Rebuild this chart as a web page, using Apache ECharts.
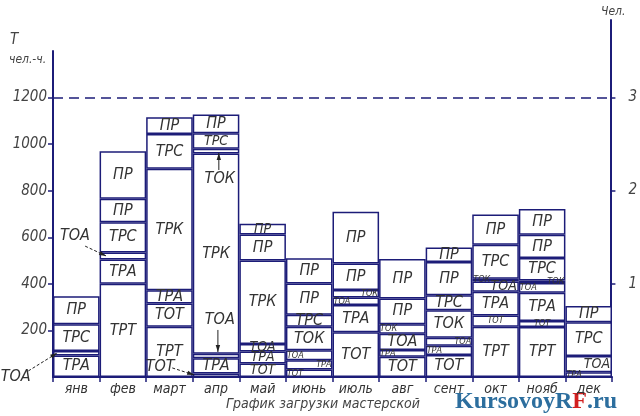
<!DOCTYPE html>
<html><head><meta charset="utf-8">
<script src="https://cdn.jsdelivr.net/npm/echarts@6/dist/echarts.min.js"></script>
<style>html,body{margin:0;padding:0;background:#fff}#c{width:640px;height:416px}</style>
</head><body><div id="c"></div><script>
// ---- data ----
const months = ['янв','фев','март','апр','май','июнь','июль','авг','сент','окт','нояб','дек'];
const hourTicks = [200,400,600,800,1000,1200];
const personTicks = [1,2,3];
const limitHours = 1200;

// segment values (чел.-ч.), bottom to top
const janValues  = [92,20,115,120];
const febValues  = [400,105,30,130,100,205];
const marValues  = [216,100,57,521,150,72];
const aprValues  = [15,65,20,860,20,67,80];
const mayValues  = [58,52,32,358,112,46];
const junValues  = [32,40,43,101,51,135,108];
const julValues  = [192,117,32,33,113,223];
const augValues  = [87,29,70,41,110,170];
const sepValues  = [94,40,35,118,64,143,62];
const octValues  = [216,48,102,44,12,146,130];
const novValues  = [215,25,122,42,10,97,100,111];
const decValues  = [20,70,145,70];

const janLabels = ['ТРА','ТОА','ТРС','ПР'];
const febLabels = ['ТРТ','ТРА','ТОА','ТРС','ПР','ПР'];
const marLabels = ['ТРТ','ТОТ','ТРА','ТРК','ТРС','ПР'];
const aprLabels = ['ТОТ','ТРА','ТОА','ТРК','ТОК','ТРС','ПР'];
const mayLabels = ['ТОТ','ТРА','ТОА','ТРК','ПР','ПР'];
const junLabels = ['ТОТ','ТРА','ТОА','ТОК','ТРС','ПР','ПР'];
const julLabels = ['ТОТ','ТРА','ТОА','ТОК','ПР','ПР'];
const augLabels = ['ТОТ','ТРА','ТОА','ТОК','ПР','ПР'];
const sepLabels = ['ТОТ','ТРА','ТОА','ТОК','ТРС','ПР','ПР'];
const octLabels = ['ТРТ','ТОТ','ТРА','ТОА','ТОК','ТРС','ПР'];
const novLabels = ['ТРТ','ТОТ','ТРА','ТОА','ТОК','ТРС','ПР','ПР'];
const decLabels = ['ТРА','ТОА','ТРС','ПР'];

const monthValues = [janValues,febValues,marValues,aprValues,mayValues,junValues,julValues,augValues,sepValues,octValues,novValues,decValues];
const monthLabels = [janLabels,febLabels,marLabels,aprLabels,mayLabels,junLabels,julLabels,augLabels,sepLabels,octLabels,novLabels,decLabels];

// ---- label placement (style) ----
const placement = [
  ['c','n','c','c'],
  ['c','c','n','c','c','c'],
  ['c','c','c','c','c','c'],
  ['n','c','n','c','n','m','c'],
  ['m','m','m','c','c','m'],
  ['sl','sr','sl','c','c','c','c'],
  ['c','c','sl','sr','c','c'],
  ['c','sl','c','sl','c','c'],
  ['c','sl','sr','c','c','c','c'],
  ['c','sc','c','r','sl','c','c'],
  ['c','sc','c','sl','sr','c','c','c'],
  ['sl','r','c','c']
];
// callouts: [text, textX, textY, fromX, fromY, toX, toY, dashed]  (x in month units, y in чел.-ч.)
const callouts = [
  ['ТОА', -0.80, 2,   -0.53, 26,  0.09, 103, 1],
  ['ТОА',  0.47, 605,  0.69, 562, 1.14, 520, 1],
  ['ТОТ',  2.30, 43,   2.56, 39,  3.03, 9,   1],
  ['ТОК',  3.58, 850,  3.56, 889, 3.56, 962, 0],
  ['ТОА',  3.58, 245,  3.54, 202, 3.54, 107, 0]
];

const NAVY = '#1c1c78';
const TXT = '#333';
const FONT = "'Liberation Sans Narrow','DejaVu Sans Condensed',sans-serif";

function labelFor(code){
  const base = {fontStyle:'italic', fontFamily:FONT, color:TXT};
  switch(code){
    case 'c':  return Object.assign(base,{show:true, position:'inside', fontSize:16});
    case 'm':  return Object.assign(base,{show:true, position:'inside', fontSize:14});
    case 'r':  return Object.assign(base,{show:true, position:'insideRight', distance:2, fontSize:14});
    case 'sl': return Object.assign(base,{show:true, position:'insideLeft', distance:1, fontSize:9});
    case 'sr': return Object.assign(base,{show:true, position:'insideRight', distance:1, fontSize:9});
    case 'sc': return Object.assign(base,{show:true, position:'inside', fontSize:9});
    default:   return {show:false};
  }
}

const layers = Math.max(...monthValues.map(v=>v.length));
const series = [];
for(let k=0;k<layers;k++){
  series.push({
    type:'bar', stack:'total', xAxisIndex:0, yAxisIndex:0,
    barCategoryGap:'0%', barGap:'0%',
    itemStyle:{color:'#fff', borderColor:NAVY, borderWidth:1.5},
    emphasis:{disabled:true},
    data: months.map((m,i)=>{
      const v = monthValues[i][k];
      if(v===undefined) return '-';
      return {value:v, label:Object.assign(labelFor(placement[i][k]),{formatter:monthLabels[i][k]})};
    }),
    markLine: k===0 ? {
      silent:true, symbol:'none', label:{show:false},
      lineStyle:{color:NAVY, type:[10,6], width:1.5},
      data:[{yAxis:limitHours}]
    } : undefined
  });
}
series.push({
  type:'custom', xAxisIndex:1, yAxisIndex:0, clip:false, z:10,
  data: callouts.map(c=>c.slice(1)),
  renderItem:(params, api)=>{
    const c = callouts[params.dataIndex];
    const t = api.coord([c[1],c[2]]);
    const a = api.coord([c[3],c[4]]);
    const b = api.coord([c[5],c[6]]);
    const ang = Math.atan2(b[1]-a[1], b[0]-a[0]);
    const L=7, W=2.2;
    const p1=[b[0]-L*Math.cos(ang)+W*Math.sin(ang), b[1]-L*Math.sin(ang)-W*Math.cos(ang)];
    const p2=[b[0]-L*Math.cos(ang)-W*Math.sin(ang), b[1]-L*Math.sin(ang)+W*Math.cos(ang)];
    return {type:'group', children:[
      {type:'text', style:{text:c[0], x:t[0], y:t[1], align:'center', verticalAlign:'middle',
        font:'italic 16px '+FONT, fill:TXT}},
      {type:'line', shape:{x1:a[0],y1:a[1],x2:b[0],y2:b[1]},
        style:{stroke:'#222', lineWidth:1, lineDash: c[7]? [3,2] : null}},
      {type:'polygon', shape:{points:[b,p1,p2]}, style:{fill:'#222'}}
    ]};
  }
});

const plain = v => String(v);
const chart = echarts.init(document.getElementById('c'), null, {renderer:'canvas'});
chart.setOption({
  animation:false,
  backgroundColor:'#fff',
  grid:[
    {left:53, right:28, top:51, bottom:39},
    {left:53, right:28, top:20, bottom:39}
  ],
  xAxis:[
    {type:'category', gridIndex:0, data:months, boundaryGap:true,
     axisLine:{onZero:false, lineStyle:{color:NAVY, width:2}},
     axisTick:{show:true, length:5, lineStyle:{color:NAVY, width:1.5}},
     axisLabel:{margin:5, fontStyle:'italic', fontFamily:FONT, fontSize:14, color:TXT, interval:0}},
    {type:'value', gridIndex:0, min:0, max:12, show:false, axisLine:{onZero:false}},
    {type:'value', gridIndex:1, min:0, max:12, show:false, axisLine:{onZero:false}}
  ],
  yAxis:[
    {type:'value', gridIndex:0, min:0, max:1400, interval:200,
     axisLine:{show:true, onZero:false, lineStyle:{color:NAVY, width:2}},
     axisTick:{show:true, length:5, customValues:hourTicks, lineStyle:{color:NAVY, width:1.5}},
     axisLabel:{customValues:hourTicks, formatter:plain, margin:6, fontStyle:'italic', fontFamily:FONT, fontSize:15, color:'#444'},
     splitLine:{show:false}},
    {type:'value', gridIndex:1, position:'right', min:0, max:3.83,
     axisLine:{show:true, onZero:false, lineStyle:{color:NAVY, width:2}},
     axisTick:{show:true, length:5, customValues:personTicks, lineStyle:{color:NAVY, width:1.5}},
     axisLabel:{customValues:personTicks, formatter:plain, margin:18, fontStyle:'italic', fontFamily:FONT, fontSize:15, color:'#444'},
     splitLine:{show:false}}
  ],
  graphic:[
    {type:'text', left:10, top:33, style:{text:'Т', font:'italic 15px '+FONT, fill:'#444'}},
    {type:'text', left:9, top:54, style:{text:'чел.-ч.', font:'italic 12px '+FONT, fill:'#444'}},
    {type:'text', left:601, top:6, style:{text:'Чел.', font:'italic 12px '+FONT, fill:'#444'}},
    {type:'text', left:226, top:397, style:{text:'График загрузки мастерской', font:'italic 14px '+FONT, fill:'#444'}},
    {type:'text', left:455, top:390, style:{
      text:'{a|Kursovoy}{b|R}{c|F}{a|.ru}',
      rich:{
        a:{fill:'#2c6e9e', font:'bold 24px "Liberation Serif", serif'},
        b:{fill:'#2c6e9e', font:'bold 24px "Liberation Serif", serif'},
        c:{fill:'#d21f1f', font:'bold 24px "Liberation Serif", serif'}
      }}}
  ],
  series: series
});
</script></body></html>
